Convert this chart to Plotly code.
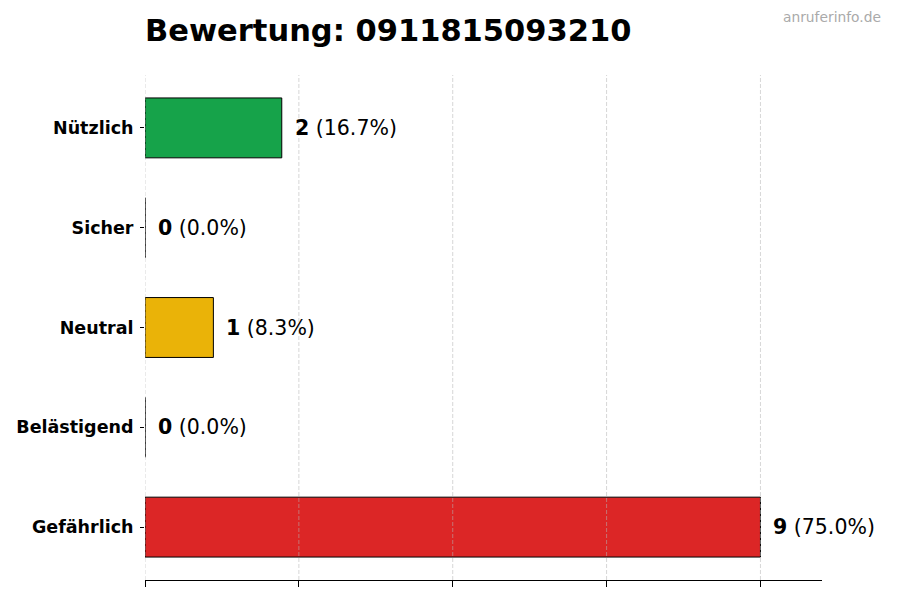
import plotly.graph_objects as go

categories = ["Nützlich", "Sicher", "Neutral", "Belästigend", "Gefährlich"]
counts = [2, 0, 1, 0, 9]
percents = [16.7, 0.0, 8.3, 0.0, 75.0]
colors = ["#16a34a", "#9ca3af", "#eab308", "#f97316", "#dc2626"]
title_text = "Bewertung: 0911815093210"
watermark = "anruferinfo.de"
grid_ticks = [0, 2.25, 4.5, 6.75, 9]

FONT = "DejaVu Sans"
OFF = 8  # page body margin
W, H = 900 - OFF, 600 - OFF
L, T = 145 - OFF, 75 - OFF
PW, PH = 677, 505
R, B = W - L - PW, H - T - PH

fig = go.Figure()
fig.add_trace(go.Bar(
    x=counts, y=categories, orientation="h",
    marker=dict(color=colors, line=dict(color="#000000", width=1)),
    width=0.6, showlegend=False, hoverinfo="skip",
))

for c, n, p in zip(categories, counts, percents):
    fig.add_annotation(
        x=n, y=c, xref="x", yref="y",
        text=f"<b>{n}</b> ({p:.1f}%)",
        showarrow=False, xanchor="left", yanchor="middle", xshift=11,
        font=dict(family=FONT, size=20.5, color="#000000"),
    )

# gridlines drawn above bars (as in reference)
for g in grid_ticks:
    fig.add_shape(type="line", x0=g, x1=g, xref="x", y0=0, y1=1, yref="paper",
                  line=dict(color="rgba(180,180,180,0.55)", width=1, dash="4px,2px"),
                  layer="above")

fig.add_annotation(
    x=(883 - OFF - L) / PW, y=(H - B - (17 - OFF)) / PH, xref="paper", yref="paper",
    text=watermark, showarrow=False, xanchor="right", yanchor="middle",
    font=dict(family=FONT, size=13.8, color="#aaaaaa"),
)

fig.update_layout(
    width=W, height=H,
    margin=dict(l=L, r=R, t=T, b=B, autoexpand=False),
    paper_bgcolor="white", plot_bgcolor="white",
    title=dict(text=f"<b>{title_text}</b>", x=L / W, xanchor="left",
               y=1 - (30 - OFF) / H, yanchor="middle", xref="container", yref="container",
               font=dict(family=FONT, size=30.5, color="#000000")),
    font=dict(family=FONT, color="#000000"),
    xaxis=dict(range=[0, 9.9], tickvals=grid_ticks, showticklabels=False,
               ticks="outside", ticklen=6, tickcolor="#000", tickwidth=1,
               showline=True, linecolor="#000", linewidth=1,
               showgrid=False, zeroline=False, fixedrange=True),
    yaxis=dict(categoryorder="array", categoryarray=categories[::-1],
               range=[-0.53, 4.53], ticks="outside", ticklen=4, tickcolor="#000",
               ticklabelstandoff=3,
               showline=False, showgrid=False, zeroline=False,
               tickfont=dict(family=FONT, size=17.5, color="#000", weight="bold"),
               fixedrange=True),
)

fig.write_html("out.html")
